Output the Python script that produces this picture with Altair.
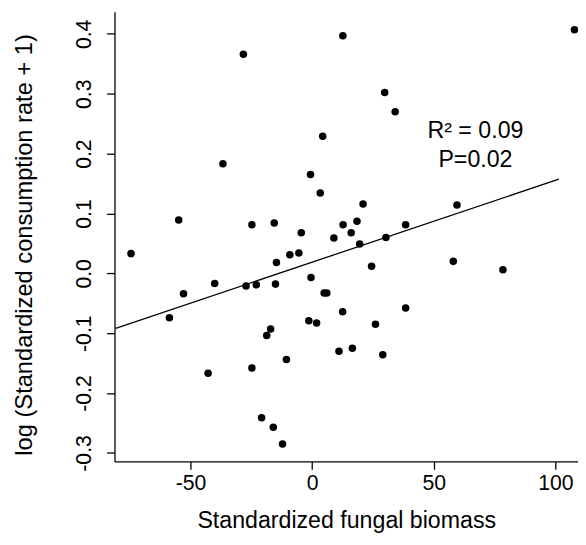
import altair as alt
import pandas as pd

# Data
fungal_biomass = [12.6, -28.3, 4.3, -36.7, -0.7, 3.3, -54.9, -24.8, -15.6, -4.5,
                  12.7, 8.9, 107.8, 29.8, 34.1, 20.9, 59.5, 18.4, 16.0, 38.4,
                  30.3, -74.5, -9.2, -5.5, -14.7, -40.1, -52.9, -27.2, -23.0, -15.1,
                  -0.5, 4.9, 6.0, 12.5, -58.7, -1.4, 1.8, -17.1, -18.7, 11.0,
                  -10.6, -24.8, -42.8, -20.8, -16.0, -12.2, 19.5, 24.4, 58.0, 78.4,
                  38.4, 26.0, 16.5, 29.0]
consumption = [0.397, 0.366, 0.229, 0.183, 0.165, 0.134, 0.089, 0.081, 0.084, 0.068,
               0.081, 0.059, 0.407, 0.302, 0.270, 0.116, 0.114, 0.087, 0.068, 0.081,
               0.060, 0.033, 0.031, 0.034, 0.018, -0.017, -0.034, -0.021, -0.019, -0.018,
               -0.007, -0.033, -0.033, -0.064, -0.074, -0.079, -0.083, -0.093, -0.104, -0.130,
               -0.144, -0.158, -0.167, -0.241, -0.257, -0.285, 0.049, 0.012, 0.020, 0.006,
               -0.058, -0.085, -0.125, -0.136]

fit_intercept = 0.0187
fit_slope = 0.001368
fit_x_range = [-80.8, 101.4]

ann_text = ["R\u00b2 = 0.09", "P=0.02"]
ann_x = [67.1, 67.1]
ann_y = [0.226, 0.178]

x_ticks = [-50, 0, 50, 100]
y_ticks = [-0.3, -0.2, -0.1, 0.0, 0.1, 0.2, 0.3, 0.4]

pts = pd.DataFrame({"x": fungal_biomass, "y": consumption})
fit = pd.DataFrame({"x": fit_x_range,
                    "y": [fit_intercept + fit_slope * v for v in fit_x_range]})
ann = pd.DataFrame({"x": ann_x, "y": ann_y, "t": ann_text})

FONT = "Liberation Sans"
xscale = alt.Scale(domain=[-81.28, 109.26], nice=False, zero=False)
yscale = alt.Scale(domain=[-0.3141, 0.4370], nice=False, zero=False)

xaxis = alt.Axis(values=x_ticks, title="Standardized fungal biomass",
                 labelExpr="datum.value < 0 ? '-' + format(-datum.value, 'd') : format(datum.value, 'd')",
                 tickSize=8, labelPadding=21, labelBaseline="alphabetic",
                 labelFontSize=21.5, titleFontSize=23.5, titleFontWeight="normal",
                 titleBaseline="alphabetic", titleX=235, titleY=67, grid=False)
yaxis = alt.Axis(values=y_ticks, title="log (Standardized consumption rate + 1)",
                 labelExpr="datum.value < -0.00001 ? '-' + format(-datum.value, '.1f') : format(abs(datum.value), '.1f')",
                 tickSize=8, labelPadding=16, labelAngle=-90, labelAlign="center",
                 labelBaseline="alphabetic",
                 labelFontSize=21.5, titleFontSize=24, titleFontWeight="normal",
                 titleAngle=-90, titleAlign="center", titleBaseline="alphabetic",
                 titleX=-84.5, titleY=236, grid=False)

points = alt.Chart(pts).mark_circle(size=58, color="black", opacity=1).encode(
    x=alt.X("x:Q", scale=xscale, axis=xaxis),
    y=alt.Y("y:Q", scale=yscale, axis=yaxis),
)
line = alt.Chart(fit).mark_line(color="black", strokeWidth=1.3).encode(
    x=alt.X("x:Q", scale=xscale),
    y=alt.Y("y:Q", scale=yscale),
)
text = alt.Chart(ann).mark_text(font=FONT, fontSize=23.5, align="center",
                                baseline="alphabetic", color="black").encode(
    x=alt.X("x:Q", scale=xscale),
    y=alt.Y("y:Q", scale=yscale),
    text="t:N",
)

chart = alt.layer(points, line, text).properties(
    width=470, height=456,
    autosize=alt.AutoSizeParams(type="none"),
    padding={"left": 108, "top": 0, "right": 0, "bottom": 80},
).configure_view(stroke=None).configure_axis(
    labelFont=FONT, titleFont=FONT, labelColor="black", titleColor="black",
    domainColor="black", tickColor="black", domainWidth=1.3, tickWidth=1.3,
)

chart.save("out.html", embed_options={"renderer": "svg", "actions": False})
